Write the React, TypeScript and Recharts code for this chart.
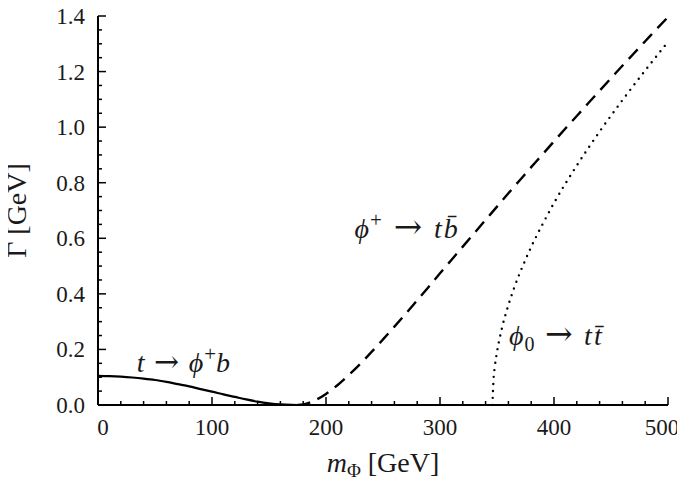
import React from 'react';
import { LineChart, Line, XAxis, YAxis, ReferenceDot, Label } from 'recharts';

// t -> phi+ b (solid)
const topDecayMass = [0, 10, 20, 30, 40, 50, 60, 70, 80, 90, 100, 110, 120, 130, 140, 150, 160, 170, 175];
const topDecayWidth = [0.105, 0.104, 0.102, 0.099, 0.095, 0.09, 0.083, 0.075, 0.067, 0.057, 0.048, 0.038, 0.029, 0.02, 0.012, 0.006, 0.002, 0.0003, 0];

// phi+ -> t bbar (dashed)
const chargedMass = [175, 180, 190, 200, 210, 220, 230, 240, 250, 260, 270, 280, 290, 300, 310, 320, 330, 340, 350, 360, 370, 380, 390, 400, 410, 420, 430, 440, 450, 460, 470, 480, 490, 500];
const chargedWidth = [0, 0.002, 0.016, 0.04, 0.071, 0.108, 0.148, 0.191, 0.236, 0.282, 0.329, 0.377, 0.425, 0.474, 0.522, 0.57, 0.618, 0.666, 0.714, 0.762, 0.809, 0.856, 0.902, 0.949, 0.995, 1.04, 1.086, 1.131, 1.176, 1.221, 1.265, 1.309, 1.353, 1.396];

// phi0 -> t tbar (dotted)
const neutralMass = [346, 347, 348, 350, 352, 355, 360, 365, 370, 375, 380, 385, 390, 400, 420, 440, 460, 480, 500];
const neutralWidth = [0, 0.095, 0.135, 0.191, 0.234, 0.288, 0.36, 0.421, 0.475, 0.523, 0.569, 0.611, 0.651, 0.727, 0.862, 0.984, 1.097, 1.204, 1.307];

const xTicks = [0, 20, 40, 60, 80, 100, 120, 140, 160, 180, 200, 220, 240, 260, 280, 300, 320, 340, 360, 380, 400, 420, 440, 460, 480, 500];
const xMajor = [0, 100, 200, 300, 400, 500];
const yTicks = [0, 0.05, 0.1, 0.15, 0.2, 0.25, 0.3, 0.35, 0.4, 0.45, 0.5, 0.55, 0.6, 0.65, 0.7, 0.75, 0.8, 0.85, 0.9, 0.95, 1.0, 1.05, 1.1, 1.15, 1.2, 1.25, 1.3, 1.35, 1.4];
const yMajor = [0, 0.2, 0.4, 0.6, 0.8, 1.0, 1.2, 1.4];

const FONT = "'Liberation Serif', 'DejaVu Serif', serif";
const ARROW_FONT = "'DejaVu Serif', 'Liberation Serif', serif";
const INK = '#000';
const TXT = '#1a1a1a';

const zip = (xs: number[], ys: number[]) => xs.map((m, i) => ({ m, g: ys[i] }));
const isMajor = (v: number, majors: number[]) => majors.some((k) => Math.abs(k - v) < 1e-6);

const BottomTick = (p: any) => {
  const { x, y, payload } = p;
  const v = payload.value;
  const major = isMajor(v, xMajor);
  const shift = v === 0 ? 5 : v === 500 ? -6 : 0;
  return (
    <g>
      <line x1={x} x2={x} y1={y} y2={y - (major ? 8 : 4)} stroke={INK} strokeWidth={1.5} />
      {major && (
        <text x={x + shift} y={y + 30} textAnchor="middle" fontFamily={FONT} fontSize={23} fill={TXT}>
          {v}
        </text>
      )}
    </g>
  );
};

const TopTick = (p: any) => {
  const { x, y, payload } = p;
  const major = isMajor(payload.value, xMajor);
  return <line x1={x} x2={x} y1={y} y2={y + (major ? 8 : 4)} stroke={INK} strokeWidth={1.5} />;
};

const LeftTick = (p: any) => {
  const { x, y, payload } = p;
  const v = payload.value;
  const major = isMajor(v, yMajor);
  return (
    <g>
      <line x1={x} x2={x + (major ? 8 : 4)} y1={y} y2={y} stroke={INK} strokeWidth={1.5} />
      {major && (
        <text x={x - 13} y={y + 8} textAnchor="end" fontFamily={FONT} fontSize={23} fill={TXT}>
          {v.toFixed(1)}
        </text>
      )}
    </g>
  );
};

const RightTick = (p: any) => {
  const { x, y, payload } = p;
  const major = isMajor(payload.value, yMajor);
  return <line x1={x} x2={x - (major ? 8 : 4)} y1={y} y2={y} stroke={INK} strokeWidth={1.5} />;
};

const XTitle = (p: any) => {
  const vb = p.viewBox;
  const cx = vb.x + vb.width / 2;
  return (
    <text x={cx} y={vb.y + 67} textAnchor="middle" fontFamily={FONT} fontSize={28} fill={TXT}>
      <tspan fontStyle="italic">m</tspan>
      <tspan fontSize={19} dy={5}>Φ</tspan>
      <tspan dy={-5}>{' [GeV]'}</tspan>
    </text>
  );
};

const YTitle = (p: any) => {
  const vb = p.viewBox;
  const cy = vb.y + vb.height / 2;
  const bx = 18;
  return (
    <text x={bx} y={cy} transform={`rotate(-90 ${bx} ${cy})`} textAnchor="middle" fontFamily={FONT} fontSize={28} fill={TXT}>
      Γ [GeV]
    </text>
  );
};

const Ann1 = (p: any) => {
  const { x, y } = p.viewBox;
  return (
    <text x={x} y={y} fontFamily={FONT} fontSize={28} fill={TXT}>
      <tspan fontStyle="italic">t</tspan>
      <tspan fontFamily={ARROW_FONT} fontSize={30}>{' → '}</tspan>
      <tspan fontStyle="italic">ϕ</tspan>
      <tspan fontSize={21} dy={-11} dx={1}>+</tspan>
      <tspan fontStyle="italic" dy={11}>b</tspan>
    </text>
  );
};

const Ann2 = (p: any) => {
  const { x, y } = p.viewBox;
  return (
    <text x={x} y={y} fontFamily={FONT} fontSize={28} fill={TXT}>
      <tspan fontStyle="italic">ϕ</tspan>
      <tspan fontSize={21} dy={-11} dx={1}>+</tspan>
      <tspan fontFamily={ARROW_FONT} fontSize={34} dy={11} dx={1}>{' → '}</tspan>
      <tspan fontStyle="italic" dx={1}>t</tspan>
      <tspan fontStyle="italic" dx={2}>{'b\u0304'}</tspan>
    </text>
  );
};

const Ann3 = (p: any) => {
  const { x, y } = p.viewBox;
  return (
    <text x={x} y={y} fontFamily={FONT} fontSize={28} fill={TXT}>
      <tspan fontStyle="italic">ϕ</tspan>
      <tspan fontSize={20} dy={6} dx={1}>0</tspan>
      <tspan fontFamily={ARROW_FONT} fontSize={33} dy={-6}>{' → '}</tspan>
      <tspan fontStyle="italic" dx={1}>t</tspan>
      <tspan fontStyle="italic" dx={2}>{'t\u0304'}</tspan>
    </text>
  );
};

export default function App() {
  return (
    <>
      <style>
        {'html, body { overflow: hidden; } .recharts-wrapper { overflow: visible !important; } .recharts-surface { overflow: visible; }'}
      </style>
      <LineChart width={669} height={473} margin={{ top: 8, right: 9, bottom: 46, left: 30 }}>
        <XAxis
          xAxisId={0}
          type="number"
          dataKey="m"
          domain={[0, 500]}
          allowDataOverflow
          ticks={xTicks}
          interval={0}
          tickSize={0}
          tickMargin={0}
          tick={<BottomTick />}
          axisLine={{ stroke: INK, strokeWidth: 2 }}
          height={30}
        >
          <Label content={<XTitle />} />
        </XAxis>
        <XAxis
          xAxisId="top"
          orientation="top"
          type="number"
          dataKey="m"
          domain={[0, 500]}
          allowDataOverflow
          ticks={xTicks}
          interval={0}
          tickSize={0}
          tickMargin={0}
          tick={<TopTick />}
          axisLine={{ stroke: INK, strokeWidth: 2 }}
          height={0}
        />
        <YAxis
          yAxisId={0}
          type="number"
          domain={[0, 1.4]}
          allowDataOverflow
          ticks={yTicks}
          interval={0}
          tickSize={0}
          tickMargin={0}
          tick={<LeftTick />}
          axisLine={{ stroke: INK, strokeWidth: 2 }}
          width={60}
        >
          <Label content={<YTitle />} />
        </YAxis>
        <YAxis
          yAxisId="right"
          orientation="right"
          type="number"
          domain={[0, 1.4]}
          allowDataOverflow
          ticks={yTicks}
          interval={0}
          tickSize={0}
          tickMargin={0}
          tick={<RightTick />}
          axisLine={{ stroke: INK, strokeWidth: 2 }}
          width={0}
        />
        <Line
          data={zip(topDecayMass, topDecayWidth)}
          dataKey="g"
          type="monotone"
          stroke={INK}
          strokeWidth={2.2}
          dot={false}
          isAnimationActive={false}
        />
        <Line
          data={zip(chargedMass, chargedWidth)}
          dataKey="g"
          type="monotone"
          stroke={INK}
          strokeWidth={2.4}
          strokeDasharray="13 8"
          dot={false}
          isAnimationActive={false}
        />
        <Line
          data={zip(neutralMass, neutralWidth)}
          dataKey="g"
          type="monotone"
          stroke={INK}
          strokeWidth={2.4}
          strokeDasharray="0 7"
          strokeLinecap="round"
          dot={false}
          isAnimationActive={false}
        />
        <ReferenceDot x={34} y={0.119} r={0} fill="none" stroke="none" label={Ann1} />
        <ReferenceDot x={225} y={0.601} r={0} fill="none" stroke="none" label={Ann2} />
        <ReferenceDot x={360.5} y={0.216} r={0} fill="none" stroke="none" label={Ann3} />
      </LineChart>
    </>
  );
}
